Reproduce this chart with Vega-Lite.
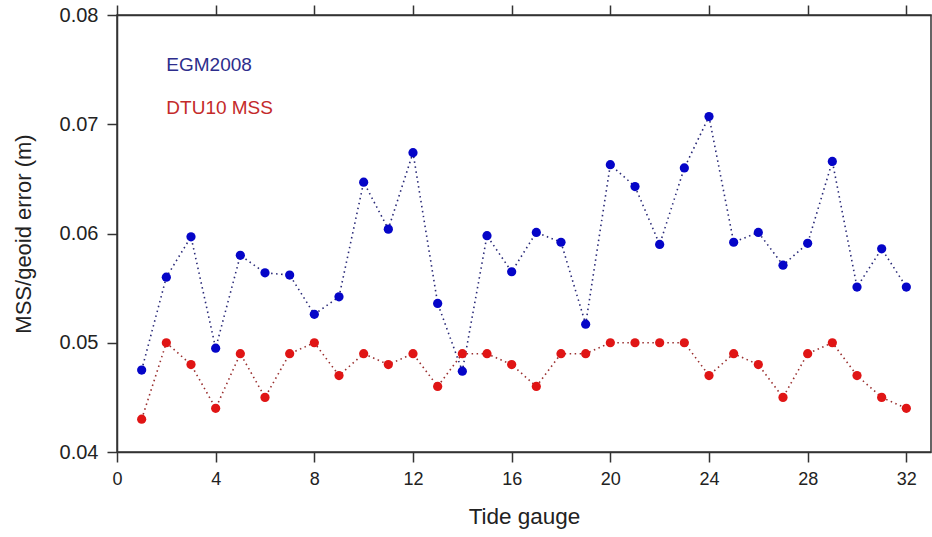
{
  "$schema": "https://vega.github.io/schema/vega-lite/v6.json",
  "autosize": {"type": "none"},
  "padding": {"left": 117, "top": 15, "right": 1, "bottom": 85},
  "width": 814,
  "height": 437,
  "background": "white",
  "config": {
    "font": "Liberation Sans",
    "view": {"stroke": "#333333", "strokeWidth": 1.5},
    "axis": {
      "domainColor": "#333333", "domainWidth": 1.5,
      "tickColor": "#333333", "tickWidth": 1.5, "tickSize": 10,
      "labelColor": "#222222", "labelFont": "Liberation Sans",
      "titleColor": "#222222", "titleFont": "Liberation Sans", "titleFontWeight": "normal",
      "grid": false
    }
  },
  "datasets": {
    "series": [
      {"gauge": 1, "model": "EGM2008", "err": 0.0475},
      {"gauge": 2, "model": "EGM2008", "err": 0.0560},
      {"gauge": 3, "model": "EGM2008", "err": 0.0597},
      {"gauge": 4, "model": "EGM2008", "err": 0.0495},
      {"gauge": 5, "model": "EGM2008", "err": 0.0580},
      {"gauge": 6, "model": "EGM2008", "err": 0.0564},
      {"gauge": 7, "model": "EGM2008", "err": 0.0562},
      {"gauge": 8, "model": "EGM2008", "err": 0.0526},
      {"gauge": 9, "model": "EGM2008", "err": 0.0542},
      {"gauge": 10, "model": "EGM2008", "err": 0.0647},
      {"gauge": 11, "model": "EGM2008", "err": 0.0604},
      {"gauge": 12, "model": "EGM2008", "err": 0.0674},
      {"gauge": 13, "model": "EGM2008", "err": 0.0536},
      {"gauge": 14, "model": "EGM2008", "err": 0.0474},
      {"gauge": 15, "model": "EGM2008", "err": 0.0598},
      {"gauge": 16, "model": "EGM2008", "err": 0.0565},
      {"gauge": 17, "model": "EGM2008", "err": 0.0601},
      {"gauge": 18, "model": "EGM2008", "err": 0.0592},
      {"gauge": 19, "model": "EGM2008", "err": 0.0517},
      {"gauge": 20, "model": "EGM2008", "err": 0.0663},
      {"gauge": 21, "model": "EGM2008", "err": 0.0643},
      {"gauge": 22, "model": "EGM2008", "err": 0.0590},
      {"gauge": 23, "model": "EGM2008", "err": 0.0660},
      {"gauge": 24, "model": "EGM2008", "err": 0.0707},
      {"gauge": 25, "model": "EGM2008", "err": 0.0592},
      {"gauge": 26, "model": "EGM2008", "err": 0.0601},
      {"gauge": 27, "model": "EGM2008", "err": 0.0571},
      {"gauge": 28, "model": "EGM2008", "err": 0.0591},
      {"gauge": 29, "model": "EGM2008", "err": 0.0666},
      {"gauge": 30, "model": "EGM2008", "err": 0.0551},
      {"gauge": 31, "model": "EGM2008", "err": 0.0586},
      {"gauge": 32, "model": "EGM2008", "err": 0.0551},
      {"gauge": 1, "model": "DTU10 MSS", "err": 0.043},
      {"gauge": 2, "model": "DTU10 MSS", "err": 0.050},
      {"gauge": 3, "model": "DTU10 MSS", "err": 0.048},
      {"gauge": 4, "model": "DTU10 MSS", "err": 0.044},
      {"gauge": 5, "model": "DTU10 MSS", "err": 0.049},
      {"gauge": 6, "model": "DTU10 MSS", "err": 0.045},
      {"gauge": 7, "model": "DTU10 MSS", "err": 0.049},
      {"gauge": 8, "model": "DTU10 MSS", "err": 0.050},
      {"gauge": 9, "model": "DTU10 MSS", "err": 0.047},
      {"gauge": 10, "model": "DTU10 MSS", "err": 0.049},
      {"gauge": 11, "model": "DTU10 MSS", "err": 0.048},
      {"gauge": 12, "model": "DTU10 MSS", "err": 0.049},
      {"gauge": 13, "model": "DTU10 MSS", "err": 0.046},
      {"gauge": 14, "model": "DTU10 MSS", "err": 0.049},
      {"gauge": 15, "model": "DTU10 MSS", "err": 0.049},
      {"gauge": 16, "model": "DTU10 MSS", "err": 0.048},
      {"gauge": 17, "model": "DTU10 MSS", "err": 0.046},
      {"gauge": 18, "model": "DTU10 MSS", "err": 0.049},
      {"gauge": 19, "model": "DTU10 MSS", "err": 0.049},
      {"gauge": 20, "model": "DTU10 MSS", "err": 0.050},
      {"gauge": 21, "model": "DTU10 MSS", "err": 0.050},
      {"gauge": 22, "model": "DTU10 MSS", "err": 0.050},
      {"gauge": 23, "model": "DTU10 MSS", "err": 0.050},
      {"gauge": 24, "model": "DTU10 MSS", "err": 0.047},
      {"gauge": 25, "model": "DTU10 MSS", "err": 0.049},
      {"gauge": 26, "model": "DTU10 MSS", "err": 0.048},
      {"gauge": 27, "model": "DTU10 MSS", "err": 0.045},
      {"gauge": 28, "model": "DTU10 MSS", "err": 0.049},
      {"gauge": 29, "model": "DTU10 MSS", "err": 0.050},
      {"gauge": 30, "model": "DTU10 MSS", "err": 0.047},
      {"gauge": 31, "model": "DTU10 MSS", "err": 0.045},
      {"gauge": 32, "model": "DTU10 MSS", "err": 0.044}
    ],
    "labels": [
      {"label": "EGM2008", "gauge": 2.0, "err": 0.0749},
      {"label": "DTU10 MSS", "gauge": 2.0, "err": 0.0709}
    ]
  },
  "resolve": {"axis": {"x": "independent"}, "scale": {"color": "independent"}},
  "layer": [
    {
      "data": {"name": "series"},
      "mark": {"type": "line", "strokeDash": [1.5, 3.5], "strokeWidth": 1.6},
      "encoding": {
        "x": {"field": "gauge", "type": "quantitative", "scale": {"domain": [0, 33], "nice": false, "zero": false},
          "axis": {"orient": "bottom", "values": [0, 4, 8, 12, 16, 20, 24, 28, 32], "title": "Tide gauge",
            "labelFontSize": 18, "labelPadding": 8, "titleFontSize": 22.5, "titlePadding": 17, "labelFlush": false}},
        "y": {"field": "err", "type": "quantitative", "scale": {"domain": [0.04, 0.08], "nice": false, "zero": false},
          "axis": {"values": [0.04, 0.05, 0.06, 0.07, 0.08], "format": ".2f", "title": "MSS/geoid error (m)",
            "labelFontSize": 20, "labelPadding": 9, "titleFontSize": 22, "titlePadding": 24, "labelFlush": false}},
        "color": {"field": "model", "type": "nominal", "legend": null,
          "scale": {"domain": ["EGM2008", "DTU10 MSS"], "range": ["#2a2a78", "#9a3030"]}},
        "detail": {"field": "model"}
      }
    },
    {
      "data": {"name": "series"},
      "mark": {"type": "point", "filled": true, "size": 85, "opacity": 1},
      "encoding": {
        "x": {"field": "gauge", "type": "quantitative",
          "axis": {"orient": "top", "values": [0, 4, 8, 12, 16, 20, 24, 28, 32], "labels": false, "title": null}},
        "y": {"field": "err", "type": "quantitative",
          "axis": {"values": [0.04, 0.05, 0.06, 0.07, 0.08], "format": ".2f", "title": "MSS/geoid error (m)",
            "labelFontSize": 20, "labelPadding": 9, "titleFontSize": 22, "titlePadding": 24, "labelFlush": false}},
        "color": {"field": "model", "type": "nominal", "legend": null,
          "scale": {"domain": ["EGM2008", "DTU10 MSS"], "range": ["#0505c8", "#e01515"]}}
      }
    },
    {
      "data": {"name": "labels"},
      "mark": {"type": "text", "align": "left", "baseline": "alphabetic", "fontSize": 19, "font": "Liberation Sans"},
      "encoding": {
        "x": {"field": "gauge", "type": "quantitative", "axis": null},
        "y": {"field": "err", "type": "quantitative",
          "axis": {"values": [0.04, 0.05, 0.06, 0.07, 0.08], "format": ".2f", "title": "MSS/geoid error (m)",
            "labelFontSize": 20, "labelPadding": 9, "titleFontSize": 22, "titlePadding": 24, "labelFlush": false}},
        "text": {"field": "label"},
        "color": {"field": "label", "type": "nominal", "legend": null,
          "scale": {"domain": ["EGM2008", "DTU10 MSS"], "range": ["#2d2d8c", "#c42a2a"]}}
      }
    }
  ]
}
